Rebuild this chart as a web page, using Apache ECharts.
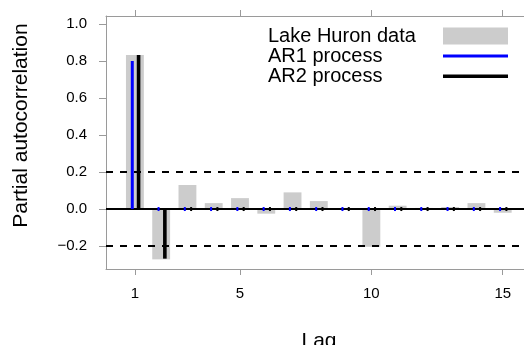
<!DOCTYPE html>
<html>
<head>
<meta charset="utf-8">
<script src="https://cdn.jsdelivr.net/npm/echarts@6/dist/echarts.min.js"></script>
<style>
  html, body { margin: 0; padding: 0; background: #fff; }
  #chart { width: 524px; height: 345px; }
</style>
</head>
<body>
<div id="chart"></div>
<script>
// PACF of the Lake Huron series, with the theoretical PACF of the fitted AR(1) / AR(2)
const lags = [1, 2, 3, 4, 5, 6, 7, 8, 9, 10, 11, 12, 13, 14, 15];
const huronPacf = [0.832, -0.272, 0.13, 0.032, 0.059, -0.025, 0.09, 0.043, -0.004, -0.204, 0.018, 0.006, 0.011, 0.032, -0.02];
const ar1Pacf = [0.8, 0, 0, 0, 0, 0, 0, 0, 0, 0, 0, 0, 0, 0, 0];
const ar2Pacf = [0.832, -0.268, 0, 0, 0, 0, 0, 0, 0, 0, 0, 0, 0, 0, 0];
const bounds = [0.2, -0.2];
const yTicks = [-0.2, 0, 0.2, 0.4, 0.6, 0.8, 1.0];
const xTicks = [1, 5, 10, 15];

const FONT = "'Liberation Sans', Arial, sans-serif";
const AXIS_GREY = '#9a9a9a';
const BAR_GREY = '#cccccc';

const pairs = (vals) => lags.map((l, i) => [l, vals[i]]);

// wide grey bar centred on the lag
function greyBar(params, api) {
  const lag = api.value(0), v = api.value(1);
  const a = api.coord([lag, Math.max(v, 0)]);
  const b = api.coord([lag, Math.min(v, 0)]);
  const w = api.size([0.68, 0])[0];
  return {
    type: 'rect',
    shape: { x: a[0] - w / 2, y: a[1], width: w, height: b[1] - a[1] },
    style: { fill: BAR_GREY }
  };
}

// thin stick (R type="h"), shifted a bit off the lag; zero values still leave a small dot
function stick(offset, lw, color) {
  return function (params, api) {
    const lag = api.value(0) + offset, v = api.value(1);
    const p0 = api.coord([lag, 0]);
    const p1 = api.coord([lag, v]);
    let y0 = Math.min(p0[1], p1[1]), y1 = Math.max(p0[1], p1[1]);
    let w = lw;
    if (y1 - y0 < lw) {
      const c = (y0 + y1) / 2;
      y0 = c - 2;
      y1 = c + 2;
      w = 2;
    }
    return {
      type: 'rect',
      shape: { x: p0[0] - w / 2, y: y0, width: w, height: y1 - y0 },
      style: { fill: color }
    };
  };
}

const chart = echarts.init(document.getElementById('chart'), null, { renderer: 'canvas' });

chart.setOption({
  animation: false,
  textStyle: { fontFamily: FONT },
  grid: { left: 106, right: 0, top: 16, bottom: 76, outerBoundsMode: 'none', containLabel: false },
  legend: {
    orient: 'vertical',
    left: 263,
    top: 21,
    align: 'right',
    itemWidth: 65,
    itemHeight: 17,
    itemGap: 0,
    selectedMode: false,
    // fixed-width, left-aligned text block so the keys line up on the right like R's legend()
    formatter: (name) => '{t|' + name + '}',
    textStyle: {
      fontFamily: FONT, fontSize: 20, color: '#000', lineHeight: 20,
      rich: { t: { width: 170, align: 'left', fontFamily: FONT, fontSize: 20, color: '#000', lineHeight: 20 } }
    },
    data: [
      { name: 'Lake Huron data', icon: 'rect' },
      { name: 'AR1 process', icon: 'path://M0,0M0,7h65v3h-65zM65,17' },
      { name: 'AR2 process', icon: 'path://M0,0M0,7h65v3.4h-65zM65,17' }
    ]
  },
  xAxis: [
    {
      type: 'value',
      position: 'bottom',
      min: -0.1,
      max: 15.81,
      name: 'Lag',
      nameLocation: 'middle',
      nameGap: 62,
      nameTextStyle: { fontFamily: FONT, fontSize: 21, color: '#000', padding: [0, 0, 0, 8] },
      splitLine: { show: false },
      axisLine: { onZero: false, lineStyle: { color: AXIS_GREY, width: 1 } },
      axisTick: { customValues: xTicks, length: 6, lineStyle: { color: AXIS_GREY } },
      axisLabel: { customValues: xTicks, margin: 17, fontSize: 15, color: '#000', fontFamily: FONT }
    },
    {
      type: 'value',
      position: 'top',
      min: -0.1,
      max: 15.81,
      splitLine: { show: false },
      axisLine: { onZero: false, lineStyle: { color: AXIS_GREY, width: 1 } },
      axisTick: { customValues: xTicks, length: 6, lineStyle: { color: AXIS_GREY } },
      axisLabel: { show: false }
    }
  ],
  yAxis: {
    type: 'value',
    min: -0.324,
    max: 1.043,
    name: 'Partial autocorrelation',
    nameLocation: 'middle',
    nameRotate: 90,
    nameGap: 74,
    nameTextStyle: { fontFamily: FONT, fontSize: 21, color: '#000', padding: [0, 0, 0, 34] },
    splitLine: { show: false },
    axisLine: { show: true, onZero: false, lineStyle: { color: AXIS_GREY, width: 1 } },
    axisTick: { show: true, customValues: yTicks, length: 7, lineStyle: { color: AXIS_GREY } },
    axisLabel: {
      customValues: yTicks,
      margin: 19,
      fontSize: 15,
      color: '#000',
      fontFamily: FONT,
      formatter: (v) => v.toFixed(1).replace('-', '\u2212')
    }
  },
  series: [
    {
      name: 'Lake Huron data',
      type: 'custom',
      z: 2,
      itemStyle: { color: BAR_GREY },
      renderItem: greyBar,
      data: pairs(huronPacf),
      markLine: {
        silent: true,
        symbol: 'none',
        label: { show: false },
        lineStyle: { color: '#000', width: 1.8, type: [7, 7] },
        data: bounds.map((b) => ({ yAxis: b }))
          .concat([{ yAxis: 0, lineStyle: { type: 'solid', width: 2 } }])
      }
    },
    {
      name: 'AR1 process',
      type: 'custom',
      z: 6,
      itemStyle: { color: '#0000ff' },
      renderItem: stick(-0.1, 3, '#0000ff'),
      data: pairs(ar1Pacf)
    },
    {
      name: 'AR2 process',
      type: 'custom',
      z: 7,
      itemStyle: { color: '#000000' },
      renderItem: stick(0.14, 3.6, '#000000'),
      data: pairs(ar2Pacf)
    }
  ]
});
</script>
</body>
</html>
